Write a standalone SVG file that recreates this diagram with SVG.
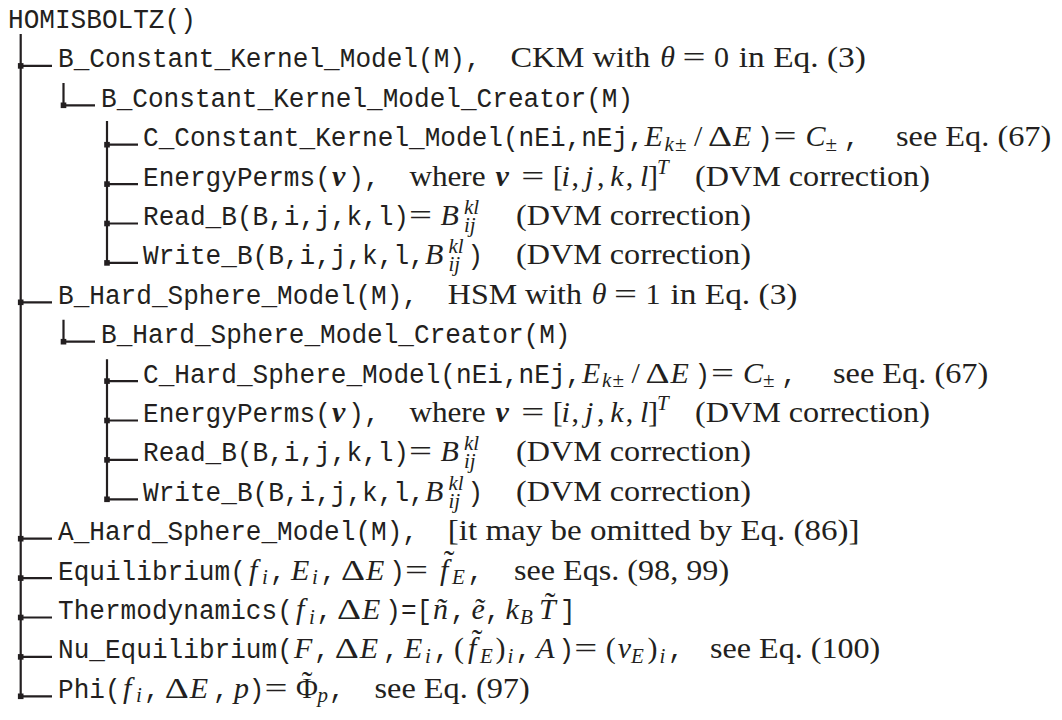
<svg xmlns="http://www.w3.org/2000/svg" width="1062" height="720" viewBox="0 0 1062 720">
<style>
text { fill:#231f20; }
.m { font-family:"Liberation Mono", monospace; font-size:27px; }
.r { font-family:"Liberation Serif", serif; font-size:30px; }
.i { font-family:"Liberation Serif", serif; font-size:30px; font-style:italic; }
.bi { font-family:"Liberation Serif", serif; font-size:30px; font-style:italic; font-weight:bold; }
.si { font-family:"Liberation Serif", serif; font-size:21px; font-style:italic; }
.sr { font-family:"Liberation Serif", serif; font-size:21px; }
.tl { font-family:"Liberation Serif", serif; font-size:32px; text-anchor:middle; }
.ln { stroke:#231f20; stroke-width:2.2; fill:none; }
.dot { fill:#231f20; }
</style>
<defs>
<rect id="dot" class="dot" x="-2.8" y="-2.8" width="5.6" height="5.6"/>
</defs>

<g id="connectors">
<path class="ln" d="M20.7 34 V696.3 M20.7 65.9 H52 M20.7 302.3 H52 M20.7 538.7 H52 M20.7 578.1 H52 M20.7 617.5 H52 M20.7 656.9 H52 M20.7 696.3 H52"/>
<path class="ln" d="M63.5 83 V105.3 H95 M63.5 319.8 V341.7 H95"/>
<path class="ln" d="M107 121 V262.9 M107 144.7 H138 M107 184.1 H138 M107 223.5 H138 M107 262.9 H138"/>
<path class="ln" d="M107 359.2 V499.3 M107 381.1 H138 M107 420.5 H138 M107 459.9 H138 M107 499.3 H138"/>
<use href="#dot" x="20.7" y="65.9"/><use href="#dot" x="20.7" y="302.3"/><use href="#dot" x="20.7" y="538.7"/>
<use href="#dot" x="20.7" y="578.1"/><use href="#dot" x="20.7" y="617.5"/><use href="#dot" x="20.7" y="656.9"/><use href="#dot" x="20.7" y="696.3"/>
<use href="#dot" x="63.5" y="105.3"/><use href="#dot" x="63.5" y="341.7"/>
<use href="#dot" x="107" y="144.7"/><use href="#dot" x="107" y="184.1"/><use href="#dot" x="107" y="223.5"/><use href="#dot" x="107" y="262.9"/>
<use href="#dot" x="107" y="381.1"/><use href="#dot" x="107" y="420.5"/><use href="#dot" x="107" y="459.9"/><use href="#dot" x="107" y="499.3"/>
</g>

<g id="node-homisboltz">
<text class="m" x="8" y="28" textLength="187.8" lengthAdjust="spacingAndGlyphs">HOMISBOLTZ()</text>
</g>

<g id="node-b-ckm">
<text class="m" x="58" y="67.4" textLength="422.6" lengthAdjust="spacingAndGlyphs">B_Constant_Kernel_Model(M),</text>
<text class="r" x="510.4" y="67.4" textLength="139.9" lengthAdjust="spacingAndGlyphs">CKM with</text>
<text class="i" x="660.2" y="67.4">θ</text>
<text class="r" x="682.5" y="67.4" textLength="23" lengthAdjust="spacingAndGlyphs">=</text>
<text class="r" x="714" y="67.4">0</text>
<text class="r" x="738.8" y="67.4" textLength="127.1" lengthAdjust="spacingAndGlyphs">in Eq. (3)</text>
</g>

<g id="node-b-ckm-creator">
<text class="m" x="101" y="106.8" textLength="532.1" lengthAdjust="spacingAndGlyphs">B_Constant_Kernel_Model_Creator(M)</text>
</g>

<g id="node-c-ckm">
<text class="m" x="143" y="146.2" textLength="500.8" lengthAdjust="spacingAndGlyphs">C_Constant_Kernel_Model(nEi,nEj,</text>
<text class="i" x="644.5" y="146.2">E</text>
<text class="si" x="664.5" y="150.7">k</text>
<text class="sr" x="675" y="150.7">±</text>
<text class="r" x="694" y="146.2">/</text>
<text class="r" x="708" y="146.2" textLength="24" lengthAdjust="spacingAndGlyphs">Δ</text>
<text class="i" x="733" y="146.2">E</text>
<text class="m" x="757" y="146.2" textLength="15.65" lengthAdjust="spacingAndGlyphs">)</text>
<text class="r" x="773.5" y="146.2" textLength="23" lengthAdjust="spacingAndGlyphs">=</text>
<text class="i" x="805.5" y="146.2">C</text>
<text class="sr" x="825.5" y="150.7">±</text>
<text class="m" x="843.8" y="146.2" textLength="15.65" lengthAdjust="spacingAndGlyphs">,</text>
<text class="r" x="896" y="146.2" textLength="155.3" lengthAdjust="spacingAndGlyphs">see Eq. (67)</text>
</g>

<g id="node-energyperms-1">
<text class="m" x="143" y="185.6" textLength="187.8" lengthAdjust="spacingAndGlyphs">EnergyPerms(</text>
<text class="bi" x="332" y="185.6">v</text>
<text class="m" x="348.3" y="185.6" textLength="31.3" lengthAdjust="spacingAndGlyphs">),</text>
<text class="r" x="409.4" y="185.6" textLength="76.2" lengthAdjust="spacingAndGlyphs">where</text>
<text class="bi" x="495.5" y="185.6">v</text>
<text class="r" x="521.3" y="185.6" textLength="23" lengthAdjust="spacingAndGlyphs">=</text>
<text class="r" x="552.8" y="185.6">[</text>
<text class="i" x="561.5" y="185.6">i</text>
<text class="r" x="571.4" y="185.6">,</text>
<text class="i" x="585" y="185.6">j</text>
<text class="r" x="597" y="185.6">,</text>
<text class="i" x="610.3" y="185.6">k</text>
<text class="r" x="625.8" y="185.6">,</text>
<text class="i" x="640" y="185.6">l</text>
<text class="r" x="648" y="185.6">]</text>
<text class="si" x="657" y="173.6">T</text>
<text class="r" x="695" y="185.6" textLength="234.9" lengthAdjust="spacingAndGlyphs">(DVM correction)</text>
</g>

<g id="node-readb-1">
<text class="m" x="143" y="225" textLength="266" lengthAdjust="spacingAndGlyphs">Read_B(B,i,j,k,l)</text>
<text class="r" x="409" y="225" textLength="23" lengthAdjust="spacingAndGlyphs">=</text>
<text class="i" x="440.5" y="225">B</text>
<text class="si" x="464" y="214">kl</text>
<text class="si" x="464" y="232">ij</text>
<text class="r" x="516" y="225" textLength="234.9" lengthAdjust="spacingAndGlyphs">(DVM correction)</text>
</g>

<g id="node-writeb-1">
<text class="m" x="143" y="264.4" textLength="281.7" lengthAdjust="spacingAndGlyphs">Write_B(B,i,j,k,l,</text>
<text class="i" x="425" y="264.4">B</text>
<text class="si" x="448.5" y="253.4">kl</text>
<text class="si" x="448.5" y="271.4">ij</text>
<text class="m" x="467.5" y="264.4" textLength="15.65" lengthAdjust="spacingAndGlyphs">)</text>
<text class="r" x="516" y="264.4" textLength="234.9" lengthAdjust="spacingAndGlyphs">(DVM correction)</text>
</g>

<g id="node-b-hsm">
<text class="m" x="58" y="303.8" textLength="360" lengthAdjust="spacingAndGlyphs">B_Hard_Sphere_Model(M),</text>
<text class="r" x="447.8" y="303.8" textLength="134.1" lengthAdjust="spacingAndGlyphs">HSM with</text>
<text class="i" x="591.8" y="303.8">θ</text>
<text class="r" x="614.1" y="303.8" textLength="23" lengthAdjust="spacingAndGlyphs">=</text>
<text class="r" x="645.6" y="303.8">1</text>
<text class="r" x="670.4" y="303.8" textLength="127.1" lengthAdjust="spacingAndGlyphs">in Eq. (3)</text>
</g>

<g id="node-b-hsm-creator">
<text class="m" x="101" y="343.2" textLength="469.5" lengthAdjust="spacingAndGlyphs">B_Hard_Sphere_Model_Creator(M)</text>
</g>

<g id="node-c-hsm">
<text class="m" x="143" y="382.6" textLength="438.2" lengthAdjust="spacingAndGlyphs">C_Hard_Sphere_Model(nEi,nEj,</text>
<text class="i" x="581.9" y="382.6">E</text>
<text class="si" x="601.9" y="387.1">k</text>
<text class="sr" x="612.4" y="387.1">±</text>
<text class="r" x="631.4" y="382.6">/</text>
<text class="r" x="645.4" y="382.6" textLength="24" lengthAdjust="spacingAndGlyphs">Δ</text>
<text class="i" x="670.4" y="382.6">E</text>
<text class="m" x="694.4" y="382.6" textLength="15.65" lengthAdjust="spacingAndGlyphs">)</text>
<text class="r" x="710.9" y="382.6" textLength="23" lengthAdjust="spacingAndGlyphs">=</text>
<text class="i" x="742.9" y="382.6">C</text>
<text class="sr" x="762.9" y="387.1">±</text>
<text class="m" x="781.2" y="382.6" textLength="15.65" lengthAdjust="spacingAndGlyphs">,</text>
<text class="r" x="833" y="382.6" textLength="155.3" lengthAdjust="spacingAndGlyphs">see Eq. (67)</text>
</g>

<g id="node-energyperms-2">
<text class="m" x="143" y="422" textLength="187.8" lengthAdjust="spacingAndGlyphs">EnergyPerms(</text>
<text class="bi" x="332" y="422">v</text>
<text class="m" x="348.3" y="422" textLength="31.3" lengthAdjust="spacingAndGlyphs">),</text>
<text class="r" x="409.4" y="422" textLength="76.2" lengthAdjust="spacingAndGlyphs">where</text>
<text class="bi" x="495.5" y="422">v</text>
<text class="r" x="521.3" y="422" textLength="23" lengthAdjust="spacingAndGlyphs">=</text>
<text class="r" x="552.8" y="422">[</text>
<text class="i" x="561.5" y="422">i</text>
<text class="r" x="571.4" y="422">,</text>
<text class="i" x="585" y="422">j</text>
<text class="r" x="597" y="422">,</text>
<text class="i" x="610.3" y="422">k</text>
<text class="r" x="625.8" y="422">,</text>
<text class="i" x="640" y="422">l</text>
<text class="r" x="648" y="422">]</text>
<text class="si" x="657" y="410">T</text>
<text class="r" x="695" y="422" textLength="234.9" lengthAdjust="spacingAndGlyphs">(DVM correction)</text>
</g>

<g id="node-readb-2">
<text class="m" x="143" y="461.4" textLength="266" lengthAdjust="spacingAndGlyphs">Read_B(B,i,j,k,l)</text>
<text class="r" x="409" y="461.4" textLength="23" lengthAdjust="spacingAndGlyphs">=</text>
<text class="i" x="440.5" y="461.4">B</text>
<text class="si" x="464" y="450.4">kl</text>
<text class="si" x="464" y="468.4">ij</text>
<text class="r" x="516" y="461.4" textLength="234.9" lengthAdjust="spacingAndGlyphs">(DVM correction)</text>
</g>

<g id="node-writeb-2">
<text class="m" x="143" y="500.8" textLength="281.7" lengthAdjust="spacingAndGlyphs">Write_B(B,i,j,k,l,</text>
<text class="i" x="425" y="500.8">B</text>
<text class="si" x="448.5" y="489.8">kl</text>
<text class="si" x="448.5" y="507.8">ij</text>
<text class="m" x="467.5" y="500.8" textLength="15.65" lengthAdjust="spacingAndGlyphs">)</text>
<text class="r" x="516" y="500.8" textLength="234.9" lengthAdjust="spacingAndGlyphs">(DVM correction)</text>
</g>

<g id="node-a-hsm">
<text class="m" x="58" y="540.2" textLength="360" lengthAdjust="spacingAndGlyphs">A_Hard_Sphere_Model(M),</text>
<text class="r" x="447.8" y="540.2" textLength="411.8" lengthAdjust="spacingAndGlyphs">[it may be omitted by Eq. (86)]</text>
</g>

<g id="node-equilibrium">
<text class="m" x="58" y="579.6" textLength="187.8" lengthAdjust="spacingAndGlyphs">Equilibrium(</text>
<text class="i" x="249" y="579.6">f</text>
<text class="si" x="262" y="584.1">i</text>
<text class="m" x="270" y="579.6" textLength="15.65" lengthAdjust="spacingAndGlyphs">,</text>
<text class="i" x="291" y="579.6">E</text>
<text class="si" x="312" y="584.1">i</text>
<text class="m" x="320.4" y="579.6" textLength="15.65" lengthAdjust="spacingAndGlyphs">,</text>
<text class="r" x="341" y="579.6" textLength="24" lengthAdjust="spacingAndGlyphs">Δ</text>
<text class="i" x="366" y="579.6">E</text>
<text class="m" x="389.3" y="579.6" textLength="15.65" lengthAdjust="spacingAndGlyphs">)</text>
<text class="r" x="405" y="579.6" textLength="23" lengthAdjust="spacingAndGlyphs">=</text>
<text class="i" x="440" y="579.6">f</text>
<text class="tl" x="449" y="572">˜</text>
<text class="si" x="452" y="584.1">E</text>
<text class="m" x="467.4" y="579.6" textLength="15.65" lengthAdjust="spacingAndGlyphs">,</text>
<text class="r" x="514" y="579.6" textLength="215.1" lengthAdjust="spacingAndGlyphs">see Eqs. (98, 99)</text>
</g>

<g id="node-thermodynamics">
<text class="m" x="58" y="619" textLength="234.8" lengthAdjust="spacingAndGlyphs">Thermodynamics(</text>
<text class="i" x="296" y="619">f</text>
<text class="si" x="309" y="623.5">i</text>
<text class="m" x="316.5" y="619" textLength="15.65" lengthAdjust="spacingAndGlyphs">,</text>
<text class="r" x="337" y="619" textLength="24" lengthAdjust="spacingAndGlyphs">Δ</text>
<text class="i" x="362" y="619">E</text>
<text class="m" x="385.3" y="619" textLength="46.95" lengthAdjust="spacingAndGlyphs">)=[</text>
<text class="i" x="433" y="619">ñ</text>
<text class="m" x="450.2" y="619" textLength="15.65" lengthAdjust="spacingAndGlyphs">,</text>
<text class="i" x="471.5" y="619">ẽ</text>
<text class="m" x="484.7" y="619" textLength="15.65" lengthAdjust="spacingAndGlyphs">,</text>
<text class="i" x="505.4" y="619">k</text>
<text class="si" x="520" y="623.5">B</text>
<text class="i" x="539" y="619">T</text>
<text class="tl" x="550" y="614">˜</text>
<text class="m" x="560" y="619" textLength="15.65" lengthAdjust="spacingAndGlyphs">]</text>
</g>

<g id="node-nu-equilibrium">
<text class="m" x="58" y="658.4" textLength="234.8" lengthAdjust="spacingAndGlyphs">Nu_Equilibrium(</text>
<text class="i" x="294" y="658.4">F</text>
<text class="m" x="314" y="658.4" textLength="15.65" lengthAdjust="spacingAndGlyphs">,</text>
<text class="r" x="334.7" y="658.4" textLength="24" lengthAdjust="spacingAndGlyphs">Δ</text>
<text class="i" x="359.8" y="658.4">E</text>
<text class="m" x="383" y="658.4" textLength="15.65" lengthAdjust="spacingAndGlyphs">,</text>
<text class="i" x="404" y="658.4">E</text>
<text class="si" x="425" y="662.9">i</text>
<text class="m" x="433.5" y="658.4" textLength="15.65" lengthAdjust="spacingAndGlyphs">,</text>
<text class="r" x="454.1" y="658.4">(</text>
<text class="i" x="468" y="658.4">f</text>
<text class="tl" x="477" y="650.8">˜</text>
<text class="si" x="480" y="662.9">E</text>
<text class="r" x="495.5" y="658.4">)</text>
<text class="si" x="507.5" y="662.9">i</text>
<text class="m" x="515.5" y="658.4" textLength="15.65" lengthAdjust="spacingAndGlyphs">,</text>
<text class="i" x="536.2" y="658.4">A</text>
<text class="m" x="558.6" y="658.4" textLength="15.65" lengthAdjust="spacingAndGlyphs">)</text>
<text class="r" x="574.3" y="658.4" textLength="23" lengthAdjust="spacingAndGlyphs">=</text>
<text class="r" x="605.8" y="658.4">(</text>
<text class="i" x="617.8" y="658.4">ν</text>
<text class="si" x="631" y="662.9">E</text>
<text class="r" x="647.4" y="658.4">)</text>
<text class="si" x="659.5" y="662.9">i</text>
<text class="m" x="667.9" y="658.4" textLength="15.65" lengthAdjust="spacingAndGlyphs">,</text>
<text class="r" x="710" y="658.4" textLength="170.3" lengthAdjust="spacingAndGlyphs">see Eq. (100)</text>
</g>

<g id="node-phi">
<text class="m" x="58" y="697.8" textLength="62.6" lengthAdjust="spacingAndGlyphs">Phi(</text>
<text class="i" x="123" y="697.8">f</text>
<text class="si" x="136" y="702.3">i</text>
<text class="m" x="144" y="697.8" textLength="15.65" lengthAdjust="spacingAndGlyphs">,</text>
<text class="r" x="164.7" y="697.8" textLength="24" lengthAdjust="spacingAndGlyphs">Δ</text>
<text class="i" x="189.8" y="697.8">E</text>
<text class="m" x="213" y="697.8" textLength="15.65" lengthAdjust="spacingAndGlyphs">,</text>
<text class="i" x="234" y="697.8">p</text>
<text class="m" x="248.7" y="697.8" textLength="15.65" lengthAdjust="spacingAndGlyphs">)</text>
<text class="r" x="264.4" y="697.8" textLength="23" lengthAdjust="spacingAndGlyphs">=</text>
<text class="r" x="295.9" y="697.8">Φ</text>
<text class="tl" x="307" y="693">˜</text>
<text class="si" x="317.5" y="702.3">p</text>
<text class="m" x="329" y="697.8" textLength="15.65" lengthAdjust="spacingAndGlyphs">,</text>
<text class="r" x="374.5" y="697.8" textLength="155.3" lengthAdjust="spacingAndGlyphs">see Eq. (97)</text>
</g>
</svg>
